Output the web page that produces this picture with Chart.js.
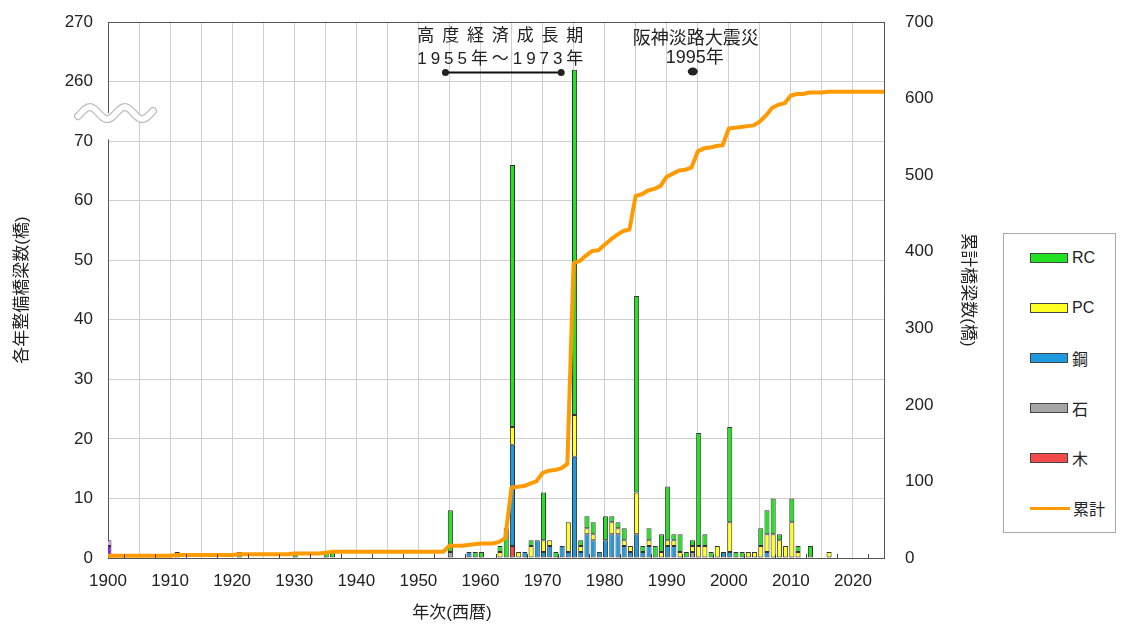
<!DOCTYPE html>
<html lang="ja">
<head>
<meta charset="utf-8">
<title>各年整備橋梁数と累計</title>
<script src="https://cdn.jsdelivr.net/npm/chart.js@4.4.1/dist/chart.umd.min.js"></script>
<style>
  html, body { margin: 0; padding: 0; background: #fff; }
  #wrap { position: relative; width: 1135px; height: 630px; }
  #legend {
    position: absolute; left: 1003px; top: 233px; width: 113px; height: 300px;
    border: 1px solid #aaa; box-sizing: border-box; background: #fff;
    font: 16px 'Liberation Sans', 'Noto Sans CJK JP', sans-serif; color: #222;
  }
  .item { position: absolute; left: 26px; height: 20px; display: flex; align-items: center; }
  .sw { width: 36px; height: 8px; border: 1px solid #444; margin-right: 4px; }
  .ln { width: 40px; height: 3px; margin-right: 3px; }
</style>
</head>
<body>
<div id="wrap">
  <canvas id="bridgeChart"></canvas>
  <div id="legend"></div>
</div>
<script>
// years that have at least one bridge
const barYears = [
  1900, 1911, 1921, 1930, 1935, 1936,
  1955, 1958, 1959, 1960, 1963, 1964,
  1965, 1966, 1967, 1968, 1969, 1970, 1971, 1972, 1973, 1974, 1975, 1976, 1977, 1978, 1979,
  1980, 1981, 1982, 1983, 1984, 1985, 1986, 1987, 1988, 1989, 1990, 1991, 1992, 1993, 1994, 1995,
  1996, 1997, 1998, 1999, 2000, 2001, 2002, 2003, 2004, 2005, 2006, 2007, 2008, 2009, 2010, 2011,
  2013, 2016
];

// bridges built per year, by type (same order as barYears)
const rc = [
  0, 0, 1, 1, 1, 1,
  7, 0, 1, 1, 1, 5,
  44, 0, 0, 1, 0, 8, 0, 1, 0, 0, 238, 1, 2, 2, 0,
  4, 1, 1, 2, 0, 33, 1, 2, 2, 3, 9, 1, 3, 1, 1, 19,
  2, 1, 0, 0, 16, 1, 1, 0, 0, 3, 4, 6, 1, 0, 4, 1,
  2, 0
];
const pc = [
  0, 0, 0, 0, 0, 0,
  0, 0, 0, 0, 1, 0,
  3, 1, 0, 2, 0, 2, 1, 0, 0, 5, 7, 1, 1, 1, 0,
  0, 2, 1, 1, 1, 7, 0, 1, 0, 1, 1, 1, 1, 0, 1, 2,
  2, 0, 2, 0, 5, 0, 0, 1, 1, 2, 3, 4, 3, 2, 6, 1,
  0, 1
];
const steel = [
  0, 0, 0, 0, 0, 0,
  0, 1, 0, 0, 0, 0,
  17, 0, 1, 0, 3, 1, 2, 0, 2, 1, 17, 1, 4, 3, 1,
  3, 4, 4, 2, 1, 4, 1, 2, 0, 0, 2, 2, 0, 0, 0, 0,
  0, 0, 0, 1, 1, 0, 0, 0, 0, 0, 1, 0, 0, 0, 0, 0,
  0, 0
];
const stone = [
  0, 1, 0, 0, 0, 0,
  1, 0, 0, 0, 0, 0,
  0, 0, 0, 0, 0, 0, 0, 0, 0, 0, 0, 0, 0, 0, 0,
  0, 0, 0, 0, 0, 0, 0, 0, 0, 0, 0, 0, 0, 0, 1, 0,
  0, 0, 0, 0, 0, 0, 0, 0, 0, 0, 0, 0, 0, 0, 0, 0,
  0, 0
];
const wood = [
  0, 0, 0, 0, 0, 0,
  0, 0, 0, 0, 0, 0,
  2, 0, 0, 0, 0, 0, 0, 0, 0, 0, 0, 0, 0, 0, 0,
  0, 0, 0, 0, 0, 0, 0, 0, 0, 0, 0, 0, 0, 0, 0, 0,
  0, 0, 0, 0, 0, 0, 0, 0, 0, 0, 0, 0, 0, 0, 0, 0,
  0, 0
];

// the 1900 bar holds two unlabelled groups (purple / lilac)
const otherYears = [1900];
const otherDark = [2];
const otherLight = [1];

// cumulative total, one value per year 1900..2025
const cumulative = [
  3, 3, 3, 3, 3, 3, 3, 3, 3, 3,
  3, 4, 4, 4, 4, 4, 4, 4, 4, 4,
  4, 5, 5, 5, 5, 5, 5, 5, 5, 5,
  6, 6, 6, 6, 6, 7, 8, 8, 8, 8,
  8, 8, 8, 8, 8, 8, 8, 8, 8, 8,
  8, 8, 8, 8, 8, 16, 16, 16, 17, 18,
  19, 19, 19, 21, 26, 92, 93, 94, 97, 100,
  111, 114, 115, 117, 123, 385, 388, 395, 401, 402,
  409, 416, 422, 427, 429, 473, 475, 480, 482, 486,
  498, 502, 506, 507, 510, 531, 535, 536, 538, 539,
  561, 562, 563, 564, 565, 570, 578, 588, 592, 594,
  604, 606, 606, 608, 608, 608, 609, 609, 609, 609,
  609, 609, 609, 609, 609, 609
];
const lineYears = cumulative.map((_, i) => 1900 + i);

const leftTicks = [0, 10, 20, 30, 40, 50, 60, 70, 260, 270];

// the left axis is broken: 0-70 then 260-270 drawn where 80-90 would be
const BREAK_FROM = 70;
const BREAK_SKIP = 180;
const BAR_SHIFT = 0.15;

const FONT = "'Liberation Sans', 'Noto Sans CJK JP', sans-serif";
Chart.defaults.font.family = FONT;
Chart.defaults.color = '#222';

const stackSeries = [
  { label: '木', values: wood, color: '#f24a4a' },
  { label: '石', values: stone, color: '#a5a5a5' },
  { label: '鋼', values: steel, color: '#1e9be0' },
  { label: 'PC', values: pc, color: '#ffff24' },
  { label: 'RC', values: rc, color: '#22e222' },
];

function shownValues(s) {
  const pts = [];
  barYears.forEach((yr, i) => {
    const v = s.values[i];
    if (!v) return;
    const total = stackSeries.reduce((sum, t) => sum + t.values[i], 0);
    const top = stackSeries.filter(t => t.values[i] > 0).pop();
    // only the top segment of a bar above the break is shortened
    const h = (total > BREAK_FROM && top === s) ? v - BREAK_SKIP : v;
    pts.push({ x: yr + BAR_SHIFT, y: h });
  });
  return pts;
}

function barSet(label, data, color) {
  return {
    label: label,
    data: data,
    backgroundColor: color,
    borderColor: '#333',
    borderWidth: 1,
    borderSkipped: false,
    barPercentage: 0.82,
    categoryPercentage: 1,
    yAxisID: 'y',
    order: 1,
  };
}

const datasets = [
  barSet('その他', otherYears.map((yr, i) => ({ x: yr + BAR_SHIFT, y: otherDark[i] })), '#8d22d2'),
  barSet('不明', otherYears.map((yr, i) => ({ x: yr + BAR_SHIFT, y: otherLight[i] })), '#dca6ee'),
  ...stackSeries.map(s => barSet(s.label, shownValues(s), s.color)),
  {
    type: 'line',
    label: '累計',
    data: lineYears.map((yr, i) => ({ x: yr, y: cumulative[i] })),
    borderColor: '#ff9a00',
    borderWidth: 4,
    borderJoinStyle: 'round',
    pointRadius: 0,
    tension: 0,
    fill: false,
    yAxisID: 'y1',
    order: 0,
  },
];

// annotations
const boomYears = [1955, 1973];
const quakeYear = 1995;

function spreadText(ctx, text, cx, cy, width) {
  const chars = Array.from(text);
  const widths = chars.map(c => ctx.measureText(c).width);
  const used = widths.reduce((a, b) => a + b, 0);
  const gap = (width - used) / (chars.length - 1);
  let x = cx - width / 2;
  ctx.textAlign = 'left';
  chars.forEach((c, i) => {
    ctx.fillText(c, x, cy);
    x += widths[i] + gap;
  });
}

// keep the plot frame where the picture has it
function noEdgePadding(s) {
  s.paddingTop = 0;
  s.paddingBottom = 0;
}

const decor = {
  id: 'decor',
  afterDraw(chart) {
    const ctx = chart.ctx;
    const a = chart.chartArea;
    const xs = chart.scales.x;
    const ys = chart.scales.y;
    ctx.save();

    // frame top
    ctx.strokeStyle = '#555';
    ctx.lineWidth = 1;
    ctx.beginPath();
    ctx.moveTo(a.left, a.top + 0.5);
    ctx.lineTo(a.right, a.top + 0.5);
    ctx.stroke();

    // small ticks between grid lines on the year axis
    ctx.strokeStyle = '#444';
    for (let v = 1902.5; v < 2025; v += 5) {
      const px = Math.round(xs.getPixelForValue(v)) + 0.5;
      ctx.beginPath();
      ctx.moveTo(px, a.bottom);
      ctx.lineTo(px, a.bottom - 4);
      ctx.stroke();
    }

    // axis break mark
    const cy = ys.getPixelForValue(74.7);
    ctx.fillStyle = '#fff';
    ctx.fillRect(a.left - 2, cy, 4, ys.getPixelForValue(70.3) - cy);
    ctx.beginPath();
    for (let px = a.left - 30; px <= a.left + 45; px++) {
      const yy = cy - 6 * Math.sin(2 * Math.PI * (px - a.left + 27) / 35);
      if (px === a.left - 30) ctx.moveTo(px, yy); else ctx.lineTo(px, yy);
    }
    ctx.lineCap = 'round';
    ctx.strokeStyle = '#bdbdbd';
    ctx.lineWidth = 8;
    ctx.stroke();
    ctx.strokeStyle = '#fff';
    ctx.lineWidth = 5.5;
    ctx.stroke();

    // high growth period
    ctx.fillStyle = '#222';
    ctx.strokeStyle = '#111';
    const x0 = xs.getPixelForValue(boomYears[0]);
    const x1 = xs.getPixelForValue(boomYears[1]);
    const mid = (x0 + x1) / 2 - 5;
    ctx.textBaseline = 'middle';
    ctx.font = '17px ' + FONT;
    spreadText(ctx, '高度経済成長期', mid, 36, 166);
    spreadText(ctx, '1955年～1973年', mid, 59, 166);
    ctx.lineWidth = 2;
    ctx.beginPath();
    ctx.moveTo(x0 - 4, 72.5);
    ctx.lineTo(x1, 72.5);
    ctx.stroke();
    [x0 - 4, x1].forEach(px => {
      ctx.beginPath();
      ctx.arc(px, 72.5, 3.5, 0, Math.PI * 2);
      ctx.fill();
    });

    // earthquake
    const xq = xs.getPixelForValue(quakeYear);
    ctx.textAlign = 'center';
    ctx.font = '18px ' + FONT;
    ctx.fillText('阪神淡路大震災', xq - 2, 39);
    ctx.fillText('1995年', xq - 3, 58);
    ctx.beginPath();
    ctx.ellipse(xq - 5, 71.5, 5, 4, 0, 0, Math.PI * 2);
    ctx.fill();

    // year axis title
    ctx.font = '17px ' + FONT;
    ctx.fillText('年次(西暦)', 452, 613);
    ctx.restore();
  }
};

const ctx = document.getElementById('bridgeChart').getContext('2d');

const chart = new Chart(ctx, {
  type: 'bar',
  data: { datasets: datasets },
  options: {
    responsive: true,
    maintainAspectRatio: false,
    animation: false,
    layout: { padding: { left: 8, right: 153, top: 22, bottom: 38 } },
    plugins: {
      legend: { display: false },
      tooltip: { enabled: false },
    },
    scales: {
      x: {
        type: 'linear',
        min: 1900,
        max: 2025,
        stacked: true,
        offset: false,
        afterFit: s => { s.height = 34; },
        grid: { color: '#cfcfcf', offset: false, drawTicks: false },
        border: { color: '#555' },
        ticks: {
          stepSize: 5,
          autoSkip: false,
          maxRotation: 0,
          padding: 13,
          font: { size: 17 },
          callback: v => (v % 10 === 0 ? String(v) : ''),
        },
      },
      y: {
        stacked: true,
        min: 0,
        max: 90,
        afterFit: s => { s.width = 100; noEdgePadding(s); },
        grid: { color: '#cfcfcf', drawTicks: false },
        border: { color: '#555' },
        ticks: {
          stepSize: 10,
          padding: 15,
          font: { size: 17 },
          callback: (v, i) => String(leftTicks[i]),
        },
        title: {
          display: true,
          text: '各年整備橋梁数(橋)',
          font: { size: 17 },
          padding: { top: 4, bottom: 32 },
        },
      },
      y1: {
        position: 'right',
        min: 0,
        max: 700,
        afterFit: s => { s.width = 98; noEdgePadding(s); },
        grid: { drawOnChartArea: false, drawTicks: false },
        border: { color: '#555' },
        ticks: { stepSize: 100, padding: 21, font: { size: 17 } },
        title: {
          display: true,
          text: '累計橋梁数(橋)',
          font: { size: 17 },
          padding: { top: 4, bottom: 24 },
        },
      },
    },
  },
  plugins: [decor],
});

// legend box on the right
const legendEl = document.getElementById('legend');
const legendItems = stackSeries.slice().reverse().map(s => ({ label: s.label, color: s.color, line: false }));
legendItems.push({ label: '累計', color: '#ff9a00', line: true });
legendItems.forEach((it, i) => {
  const row = document.createElement('div');
  row.className = 'item';
  row.style.top = (14 + i * 50) + 'px';
  const mark = document.createElement('span');
  mark.className = it.line ? 'ln' : 'sw';
  mark.style.background = it.color;
  const txt = document.createElement('span');
  txt.textContent = it.label;
  row.appendChild(mark);
  row.appendChild(txt);
  legendEl.appendChild(row);
});
</script>
</body>
</html>
